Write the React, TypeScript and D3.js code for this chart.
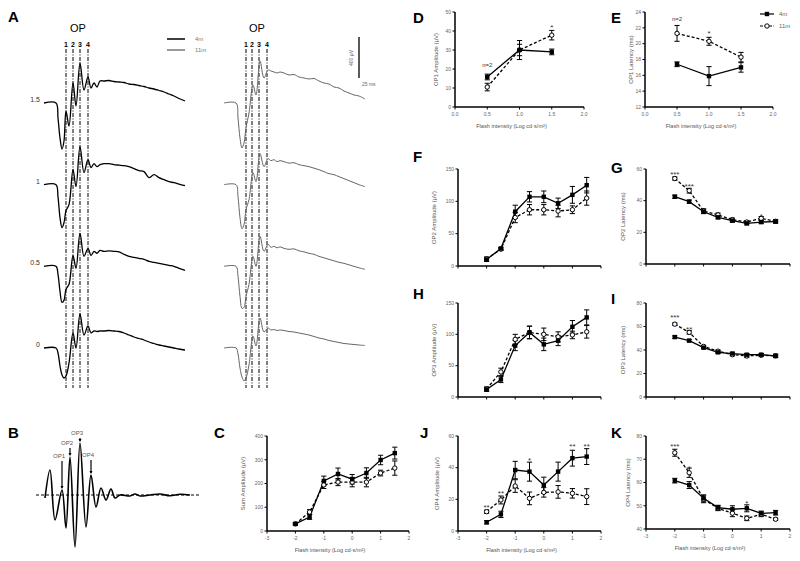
import React from "react";
import * as d3 from "d3";

const FONT = "'Liberation Sans', Arial, sans-serif";

// ---------------- Panel A : ERG traces (ms, µV keypoints) ----------------
const traceTimes = [0, 12, 14, 16, 18, 20, 22, 25, 29, 32, 36, 40, 44, 47, 50, 53, 56, 60, 65, 70, 75, 80, 85, 90, 95, 100, 105, 110, 115, 120, 125, 130, 135, 141];
const traceLevels = ["1.5", "1", "0.5", "0"];
const trace4m_15 = [0, 0, -150, -350, -460, -380, -80, -230, 200, -30, 400, 130, 260, 150, 200, 160, 220, 220, 225, 215, 210, 205, 190, 185, 175, 165, 150, 140, 125, 110, 90, 70, 45, 20];
const trace4m_1 = [0, 0, -120, -330, -430, -380, -260, -200, 150, -20, 380, 120, 250, 170, 210, 180, 200, 210, 210, 200, 195, 190, 180, 160, 140, 130, 70, 100, 70, 50, 30, 20, 5, -10];
const trace4m_05 = [0, 0, -80, -250, -360, -340, -230, -180, 110, -20, 330, 100, 180, 110, 150, 130, 160, 150, 155, 150, 145, 120, 100, 90, 80, 70, 50, 40, 30, 20, 10, 0, -20, -40];
const trace4m_0 = [0, 0, -50, -180, -270, -300, -280, -150, 150, 0, 340, 130, 220, 150, 170, 165, 170, 170, 175, 170, 165, 150, 130, 110, 95, 80, 60, 45, 30, 20, 10, 0, -10, -20];
const trace11m_15 = [0, 0, -150, -350, -450, -400, -250, -100, 180, 80, 420, 250, 330, 320, 310, 300, 310, 300, 280, 285, 260, 250, 240, 245, 220, 200, 190, 160, 150, 120, 100, 80, 70, 40];
const trace11m_1 = [0, 0, -120, -330, -440, -400, -250, -150, 120, 30, 310, 180, 260, 240, 250, 230, 240, 230, 215, 220, 200, 190, 180, 165, 150, 130, 110, 100, 80, 60, 40, 20, 0, -20];
const trace11m_05 = [0, 0, -100, -300, -420, -410, -300, -180, 100, 0, 300, 150, 220, 190, 200, 185, 195, 180, 170, 175, 155, 145, 130, 120, 100, 85, 70, 55, 40, 30, 15, 0, -15, -30];
const trace11m_0 = [0, 0, -60, -200, -290, -330, -300, -170, 120, 20, 300, 160, 200, 180, 185, 175, 180, 175, 165, 160, 150, 140, 130, 115, 100, 90, 75, 65, 55, 45, 40, 35, 30, 25];
const traces4m = [trace4m_15, trace4m_1, trace4m_05, trace4m_0];
const traces11m = [trace11m_15, trace11m_1, trace11m_05, trace11m_0];
const opNumbers = ["1", "2", "3", "4"];
const opTimes4m = [22, 29, 36, 44];
const opTimes11m = [22, 28, 35, 43];

// ---------------- Panel B : isolated OPs ----------------
const bTimes = [9, 14, 19, 26, 30, 34, 39, 44, 50, 55, 60, 65, 70, 75, 79, 84, 94, 99, 104, 114, 124, 134, 144, 154];
const bValues = [-12, 100, -100, 20, -132, 152, -208, 208, -128, 80, -48, 28, -20, 24, -12, 0, -4, 4, -4, 0, 4, -3, 3, 0];
const bOpLabels = ["OP1", "OP2", "OP3", "OP4"];
const bOpTimes = [26, 34, 44, 55];
const bOpPeaks = [20, 152, 208, 80];

// ---------------- Panels C-K ----------------
const intensities = [-2, -1.5, -1, -0.5, 0, 0.5, 1, 1.5];
const op1Intensities = [0.5, 1, 1.5];
const wideTicks = [-3, -2, -1, 0, 1, 2];
const narrowTicks = [0, 0.5, 1, 1.5, 2];

// D
const op1Amp4m = [15.8, 30, 29];
const op1Amp4mErr = [1.5, 5, 1.5];
const op1Amp11m = [10.5, 30, 37.8];
const op1Amp11mErr = [2, 3, 2.5];
const dTicks = [0, 10, 20, 30, 40, 50];
// E
const op1Lat4m = [17.4, 15.9, 17.0];
const op1Lat4mErr = [0.3, 1.2, 0.6];
const op1Lat11m = [21.3, 20.3, 18.3];
const op1Lat11mErr = [1.0, 0.5, 0.6];
const eTicks = [12, 14, 16, 18, 20, 22, 24];
// F
const op2Amp4m = [10, 27, 84, 107, 107, 97, 110, 125];
const op2Amp4mErr = [3, 2, 10, 8, 9, 8, 13, 12];
const op2Amp11m = [11, 26, 75, 87, 87, 85, 87, 105];
const op2Amp11mErr = [3, 2, 8, 8, 8, 9, 6, 11];
// G
const op2Lat4m = [42.5, 39.4, 33, 29.5, 27.4, 25.7, 26.5, 26.8];
const op2Lat4mErr = [1, 1, 1.2, 1, 1, 1, 1, 1];
const op2Lat11m = [54, 46.3, 33.4, 31, 28, 26.5, 28.8, 27];
const op2Lat11mErr = [1, 1.5, 1.5, 1.2, 1, 1, 1.2, 1];
// H
const op3Amp4m = [12, 28, 82, 103, 84, 90, 112, 127];
const op3Amp4mErr = [3, 5, 8, 10, 10, 8, 10, 12];
const op3Amp11m = [13, 40, 92, 103, 100, 96, 99, 104];
const op3Amp11mErr = [3, 6, 8, 10, 10, 8, 6, 10];
// I
const op3Lat4m = [51, 48, 42, 38, 37, 36, 36, 35];
const op3Lat4mErr = [1, 1, 1, 1, 1, 1, 1, 1];
const op3Lat11m = [62, 55, 43, 39, 36, 35, 35.5, 35];
const op3Lat11mErr = [1, 1.5, 1, 1, 1, 1.5, 1, 1.5];
// J
const op4Amp4m = [5.5, 10.5, 38.5, 37.5, 29, 37.5, 46, 47];
const op4Amp4mErr = [1, 2, 5.5, 6, 5, 6, 5, 5];
const op4Amp11m = [12.2, 19.6, 28.4, 20.6, 24.4, 24.7, 23.8, 21.7];
const op4Amp11mErr = [1, 2.5, 4, 4, 3, 4, 3, 5];
// K
const op4Lat4m = [60.8, 58.9, 53.2, 49.2, 48.5, 48.9, 46.7, 47];
const op4Lat4mErr = [1, 1.5, 1.5, 1, 1.5, 1.5, 1, 1];
const op4Lat11m = [72.8, 64.2, 52.8, 48.9, 46.8, 44.6, 46.3, 44.2];
const op4Lat11mErr = [1.5, 2, 1.5, 1, 1.5, 1, 1, 0.5];
// C
const sumAmp4m = [30, 59, 211, 240, 218, 244, 299, 328];
const sumAmp4mErr = [5, 10, 20, 25, 20, 22, 20, 25];
const sumAmp11m = [30, 80, 194, 206, 206, 206, 244, 265];
const sumAmp11mErr = [5, 10, 15, 15, 20, 20, 12, 30];

const dAnnot = [{ x: 0.5, y: 21, t: "n=2" }, { x: 1.5, y: 42.5, t: "*" }];
const eAnnot = [{ x: 0.5, y: 22.9, t: "n=2" }, { x: 1, y: 21.4, t: "*" }];
const gAnnot = [{ x: -2, y: 57, t: "***" }, { x: -1.5, y: 49.5, t: "***" }, { x: 1, y: 31, t: "*" }];
const iAnnot = [{ x: -2, y: 68.5, t: "***" }, { x: -1.5, y: 58.5, t: "**" }];
const jAnnot = [{ x: -2, y: 15.5, t: "**" }, { x: -1.5, y: 24.5, t: "**" }, { x: -0.5, y: 45.5, t: "*" }, { x: 1, y: 54, t: "**" }, { x: 1.5, y: 54, t: "**" }];
const kAnnot = [{ x: -2, y: 76, t: "***" }, { x: -1.5, y: 66.5, t: "*" }, { x: 0.5, y: 51.5, t: "*" }];

const X_TITLE = "Flash intensity (Log cd·s/m²)";

type Ann = { x: number; y: number; t: string };
type PanelProps = {
  label: string; lx: number; ly: number;
  xr: [number, number]; yr: [number, number];
  xd: [number, number]; yd: [number, number];
  yt: number[]; xt: number[]; xfmt?: (v: number) => string; showX: boolean;
  xs: number[]; a: number[]; ae: number[]; b: number[]; be: number[];
  yTitle: string; yTitleOff: number; xTitle?: string; ann?: Ann[];
  legend?: boolean;
};

function Panel(p: PanelProps) {
  const x = d3.scaleLinear().domain(p.xd).range(p.xr);
  const y = d3.scaleLinear().domain(p.yd).range(p.yr);
  const ln = d3.line<number>().x((_, i) => x(p.xs[i])).y((d) => y(d));
  const cap = 2.6;
  const fmt = p.xfmt || ((v: number) => String(v));
  const bars = (vals: number[], errs: number[], k: string) =>
    vals.map((v, i) => (
      <g key={k + i} stroke="black" strokeWidth={1}>
        <line x1={x(p.xs[i])} x2={x(p.xs[i])} y1={y(v - errs[i])} y2={y(v + errs[i])} />
        <line x1={x(p.xs[i]) - cap} x2={x(p.xs[i]) + cap} y1={y(v - errs[i])} y2={y(v - errs[i])} />
        <line x1={x(p.xs[i]) - cap} x2={x(p.xs[i]) + cap} y1={y(v + errs[i])} y2={y(v + errs[i])} />
      </g>
    ));
  return (
    <g fontFamily={FONT}>
      <text x={p.lx} y={p.ly} fontSize={15} fontWeight="bold">{p.label}</text>
      <line x1={p.xr[0]} x2={p.xr[1]} y1={p.yr[0]} y2={p.yr[0]} stroke="black" strokeWidth={1.5} />
      <line x1={p.xr[0]} x2={p.xr[0]} y1={p.yr[0]} y2={p.yr[1]} stroke="black" strokeWidth={1.5} />
      {p.yt.map((t) => (
        <g key={"y" + t}>
          <line x1={p.xr[0] - 2.5} x2={p.xr[0]} y1={y(t)} y2={y(t)} stroke="black" strokeWidth={1} />
          <text x={p.xr[0] - 4} y={y(t)} dy="0.35em" textAnchor="end" fontSize={5} fill="#666">{t}</text>
        </g>
      ))}
      {p.xt.map((t) => (
        <g key={"x" + t}>
          <line x1={x(t)} x2={x(t)} y1={p.yr[0]} y2={p.yr[0] + 2.5} stroke="black" strokeWidth={1} />
          {p.showX && (
            <text x={x(t)} y={p.yr[0] + 8.5} textAnchor="middle" fontSize={5} fill="#666">{fmt(t)}</text>
          )}
        </g>
      ))}
      <text
        transform={`translate(${p.xr[0] - p.yTitleOff},${(p.yr[0] + p.yr[1]) / 2}) rotate(-90)`}
        textAnchor="middle" fontSize={6} fill="#555"
      >
        {p.yTitle}
      </text>
      {p.xTitle && (
        <text x={(p.xr[0] + p.xr[1]) / 2 - 8} y={p.yr[0] + 21} textAnchor="middle" fontSize={5.6} fill="#555">
          {p.xTitle}
        </text>
      )}
      <path d={ln(p.b) || ""} fill="none" stroke="black" strokeWidth={1.3} strokeDasharray="3,2" />
      <path d={ln(p.a) || ""} fill="none" stroke="black" strokeWidth={1.3} />
      {bars(p.b, p.be, "b")}
      {bars(p.a, p.ae, "a")}
      {p.b.map((v, i) => (
        <circle key={"mb" + i} cx={x(p.xs[i])} cy={y(v)} r={2.2} fill="white" stroke="black" strokeWidth={1} />
      ))}
      {p.a.map((v, i) => (
        <rect key={"ma" + i} x={x(p.xs[i]) - 2.2} y={y(v) - 2.2} width={4.4} height={4.4} fill="black" />
      ))}
      {(p.ann || []).map((a, i) => (
        <text key={"an" + i} x={x(a.x)} y={y(a.y)} textAnchor="middle"
          fontSize={a.t.startsWith("n") ? 6 : 8} fill="#333" dy={a.t.startsWith("n") ? "0" : "0.45em"}>
          {a.t}
        </text>
      ))}
      {p.legend && (
        <g>
          <line x1={760} x2={774} y1={14} y2={14} stroke="black" strokeWidth={1.2} />
          <rect x={764.8} y={11.8} width={4.4} height={4.4} fill="black" />
          <text x={779} y={16} fontSize={6} fill="#666">4m</text>
          <line x1={760} x2={774} y1={26} y2={26} stroke="black" strokeWidth={1.2} strokeDasharray="3,1.5" />
          <circle cx={767} cy={26} r={2.2} fill="white" stroke="black" strokeWidth={1} />
          <text x={779} y={28} fontSize={6} fill="#666">11m</text>
        </g>
      )}
    </g>
  );
}

function PanelA() {
  const x4 = d3.scaleLinear().domain([0, 141]).range([44, 185]);
  const x11 = d3.scaleLinear().domain([0, 141]).range([224, 365]);
  const base = d3.scalePoint<string>().domain(traceLevels).range([103, 348]);
  const v = d3.scaleLinear().domain([0, 400]).range([0, -40]);
  const mk = (xs: d3.ScaleLinear<number, number>, b: number) =>
    d3.line<number>().x((_, i) => xs(traceTimes[i])).y((d) => b + v(d)).curve(d3.curveCatmullRom.alpha(0.5));
  return (
    <g fontFamily={FONT}>
      <text x={8} y={22} fontSize={15} fontWeight="bold">A</text>
      <text x={78} y={32} fontSize={11} textAnchor="middle">OP</text>
      <text x={257} y={32} fontSize={11} textAnchor="middle">OP</text>
      {opNumbers.map((n, i) => (
        <g key={"l" + n}>
          <text x={x4(opTimes4m[i])} y={47} fontSize={7} fontWeight="bold" textAnchor="middle">{n}</text>
          <line x1={x4(opTimes4m[i])} x2={x4(opTimes4m[i])} y1={49} y2={388} stroke="black" strokeWidth={1} strokeDasharray="4,1.5,1,1.5" />
          <text x={x11(opTimes11m[i])} y={47} fontSize={7} fontWeight="bold" textAnchor="middle">{n}</text>
          <line x1={x11(opTimes11m[i])} x2={x11(opTimes11m[i])} y1={49} y2={388} stroke="black" strokeWidth={1} strokeDasharray="4,1.5,1,1.5" />
        </g>
      ))}
      {traceLevels.map((lv, k) => (
        <g key={lv}>
          <text x={40} y={(base(lv) as number) - 1} textAnchor="end" fontSize={7} fill="#333">{lv}</text>
          <path d={mk(x4, base(lv) as number)(traces4m[k]) || ""} fill="none" stroke="black" strokeWidth={1.3} />
          <path d={mk(x11, base(lv) as number)(traces11m[k]) || ""} fill="none" stroke="#666" strokeWidth={1} />
        </g>
      ))}
      {/* legend */}
      <line x1={167} x2={185} y1={39} y2={39} stroke="black" strokeWidth={1.5} />
      <text x={195} y={41} fontSize={6} fill="#777">4m</text>
      <line x1={167} x2={185} y1={50} y2={50} stroke="#777" strokeWidth={1.5} />
      <text x={195} y={52} fontSize={6} fill="#777">11m</text>
      {/* scale bar */}
      <line x1={359} x2={359} y1={37} y2={78} stroke="black" strokeWidth={1.3} />
      <text transform="translate(353,58) rotate(-90)" fontSize={5} textAnchor="middle" fill="#666">400 µV</text>
      <text x={362} y={86} fontSize={5} fill="#666">25 ms</text>
    </g>
  );
}

function PanelB() {
  const x = d3.scaleLinear().domain([0, 164]).range([36, 200]);
  const y = d3.scaleLinear().domain([-200, 200]).range([545, 445]);
  const ln = d3.line<number>().x((_, i) => x(bTimes[i])).y((d) => y(d)).curve(d3.curveCatmullRom.alpha(0.5));
  const textOff = [32, 12, 8, 18];
  return (
    <g fontFamily={FONT}>
      <text x={8} y={438} fontSize={15} fontWeight="bold">B</text>
      <line x1={x(0)} x2={x(164)} y1={y(0)} y2={y(0)} stroke="black" strokeWidth={1} strokeDasharray="3,2" />
      <path d={ln(bValues) || ""} fill="none" stroke="black" strokeWidth={1.6} />
      {bOpLabels.map((l, i) => (
        <g key={l}>
          <text x={x(bOpTimes[i]) - 3} y={y(bOpPeaks[i]) - textOff[i]} fontSize={6} textAnchor="middle" fill="#555">{l}</text>
          <line x1={x(bOpTimes[i])} x2={x(bOpTimes[i])} y1={y(bOpPeaks[i]) - textOff[i] + 3} y2={y(bOpPeaks[i]) - 2} stroke="black" strokeWidth={1.2} />
          <path d={`M${x(bOpTimes[i]) - 1.5},${y(bOpPeaks[i]) - 4}L${x(bOpTimes[i]) + 1.5},${y(bOpPeaks[i]) - 4}L${x(bOpTimes[i])},${y(bOpPeaks[i]) - 1}Z`} fill="black" />
        </g>
      ))}
    </g>
  );
}

export default function App() {
  const one = (v: number) => v.toFixed(1);
  return (
    <svg width={800} height={561} style={{ position: "absolute", left: 0, top: 0, background: "white" }}>
      <rect width={800} height={561} fill="white" />
      <PanelA />
      <PanelB />
      <Panel label="C" lx={214} ly={438} xr={[267, 409]} yr={[531, 436]} xd={[-3, 2]} yd={[0, 400]}
        yt={[0, 100, 200, 300, 400]} xt={wideTicks} showX xs={intensities}
        a={sumAmp4m} ae={sumAmp4mErr} b={sumAmp11m} be={sumAmp11mErr}
        yTitle="Sum Amplitude (µV)" yTitleOff={22} xTitle={X_TITLE} />
      <Panel label="D" lx={413} ly={23} xr={[455, 584]} yr={[107, 12]} xd={[0, 2]} yd={[0, 50]}
        yt={dTicks} xt={narrowTicks} xfmt={one} showX xs={op1Intensities}
        a={op1Amp4m} ae={op1Amp4mErr} b={op1Amp11m} be={op1Amp11mErr}
        yTitle="OP1 Amplitude (µV)" yTitleOff={17} xTitle={X_TITLE} ann={dAnnot} />
      <Panel label="E" lx={611} ly={23} xr={[645, 773]} yr={[107, 12]} xd={[0, 2]} yd={[12, 24]}
        yt={eTicks} xt={narrowTicks} xfmt={one} showX xs={op1Intensities}
        a={op1Lat4m} ae={op1Lat4mErr} b={op1Lat11m} be={op1Lat11mErr}
        yTitle="OP1 Latency (ms)" yTitleOff={12} xTitle={X_TITLE} ann={eAnnot} legend />
      <Panel label="F" lx={413} ly={162} xr={[458, 601]} yr={[266, 169]} xd={[-3, 2]} yd={[0, 150]}
        yt={[0, 50, 100, 150]} xt={wideTicks} showX={false} xs={intensities}
        a={op2Amp4m} ae={op2Amp4mErr} b={op2Amp11m} be={op2Amp11mErr}
        yTitle="OP2 Amplitude (µV)" yTitleOff={22} />
      <Panel label="G" lx={611} ly={173} xr={[646, 790]} yr={[264, 169]} xd={[-3, 2]} yd={[0, 60]}
        yt={[0, 20, 40, 60]} xt={wideTicks} showX={false} xs={intensities}
        a={op2Lat4m} ae={op2Lat4mErr} b={op2Lat11m} be={op2Lat11mErr}
        yTitle="OP2 Latency (ms)" yTitleOff={21} ann={gAnnot} />
      <Panel label="H" lx={413} ly={299} xr={[458, 601]} yr={[397, 303]} xd={[-3, 2]} yd={[0, 150]}
        yt={[0, 50, 100, 150]} xt={wideTicks} showX={false} xs={intensities}
        a={op3Amp4m} ae={op3Amp4mErr} b={op3Amp11m} be={op3Amp11mErr}
        yTitle="OP3 Amplitude (µV)" yTitleOff={22} />
      <Panel label="I" lx={611} ly={304} xr={[646, 790]} yr={[397, 303]} xd={[-3, 2]} yd={[0, 80]}
        yt={[0, 20, 40, 60, 80]} xt={wideTicks} showX={false} xs={intensities}
        a={op3Lat4m} ae={op3Lat4mErr} b={op3Lat11m} be={op3Lat11mErr}
        yTitle="OP3 Latency (ms)" yTitleOff={21} ann={iAnnot} />
      <Panel label="J" lx={420} ly={438} xr={[458, 601]} yr={[531, 436]} xd={[-3, 2]} yd={[0, 60]}
        yt={[0, 20, 40, 60]} xt={wideTicks} showX xs={intensities}
        a={op4Amp4m} ae={op4Amp4mErr} b={op4Amp11m} be={op4Amp11mErr}
        yTitle="OP4 Amplitude (µV)" yTitleOff={19} xTitle={X_TITLE} ann={jAnnot} />
      <Panel label="K" lx={611} ly={438} xr={[646, 790]} yr={[529, 436]} xd={[-3, 2]} yd={[40, 80]}
        yt={[40, 50, 60, 70, 80]} xt={wideTicks} showX xs={intensities}
        a={op4Lat4m} ae={op4Lat4mErr} b={op4Lat11m} be={op4Lat11mErr}
        yTitle="OP4 Latency (ms)" yTitleOff={16} xTitle={X_TITLE} ann={kAnnot} />
    </svg>
  );
}
